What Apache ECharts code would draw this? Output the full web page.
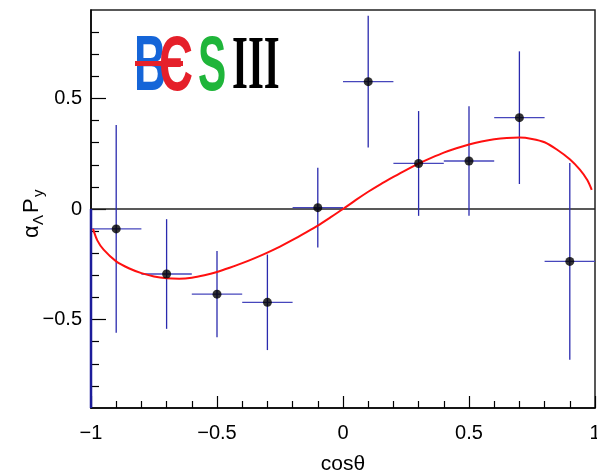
<!DOCTYPE html>
<html>
<head>
<meta charset="utf-8">
<script src="https://cdn.jsdelivr.net/npm/echarts@6/dist/echarts.min.js"></script>
<style>
html,body{margin:0;padding:0;background:#fff;}
#c{width:597px;height:473px;}
</style>
</head>
<body>
<div id="c"></div>
<script>
// ---- data ----
const xVals  = [-0.9, -0.7, -0.5, -0.3, -0.1, 0.1, 0.3, 0.5, 0.7, 0.9];
const yVals  = [-0.090, -0.294, -0.385, -0.422, 0.006, 0.576, 0.206, 0.217, 0.413, -0.237];
const yErrs  = [0.470, 0.248, 0.195, 0.216, 0.180, 0.298, 0.237, 0.248, 0.300, 0.445];
const xErrs  = [0.1, 0.1, 0.1, 0.1, 0.1, 0.1, 0.1, 0.1, 0.1, 0.1];
// fitted curve
const curveX = [-0.992, -0.975, -0.95, -0.9, -0.85, -0.8, -0.75, -0.7, -0.65, -0.6, -0.55, -0.5, -0.45, -0.4, -0.35, -0.3, -0.25, -0.2, -0.15, -0.1, -0.05, 0.0,
                0.05, 0.1, 0.15, 0.2, 0.25, 0.3, 0.35, 0.4, 0.45, 0.5, 0.55, 0.6, 0.65, 0.7, 0.75, 0.8, 0.85, 0.9, 0.94, 0.97, 0.987];
const curveY = [-0.090, -0.142, -0.184, -0.237, -0.268, -0.290, -0.305, -0.313, -0.315, -0.311, -0.300, -0.285, -0.266, -0.245, -0.222, -0.197, -0.170, -0.140, -0.108, -0.075, -0.038, 0.000,
                0.040, 0.078, 0.113, 0.145, 0.176, 0.205, 0.231, 0.255, 0.275, 0.292, 0.305, 0.315, 0.321, 0.323, 0.317, 0.302, 0.268, 0.225, 0.178, 0.130, 0.087];
const zeroLine = [[-1, 0], [1, 0]];
const edgeLine = [[-1, 0], [-1, -0.9]];
const xMajor = [-1, -0.5, 0, 0.5, 1];
const xMinor = [-0.9,-0.8,-0.7,-0.6,-0.4,-0.3,-0.2,-0.1,0.1,0.2,0.3,0.4,0.6,0.7,0.8,0.9];
const yMajor = [-0.5, 0, 0.5];
const yMinor = [-0.8,-0.7,-0.6,-0.4,-0.3,-0.2,-0.1,0.1,0.2,0.3,0.4,0.6,0.7,0.8];
const axisTitleX = 'cosθ';

const fmt = v => (v < 0 ? '\u2212' + String(Math.abs(v)) : String(v));
const FONT = 'Liberation Sans, Arial, sans-serif';

const chart = echarts.init(document.getElementById('c'), null, {renderer: 'canvas'});

const errData = xVals.map((x, i) => [x, yVals[i], yErrs[i], xErrs[i]]);
const ptData = xVals.map((x, i) => [x, yVals[i]]);
const curveData = curveX.map((x, i) => [x, curveY[i]]);

const baseAxis = {
  type: 'value', min: -1, max: 1,
  splitLine: {show: false}
};

const option = {
  animation: false,
  backgroundColor: '#fff',
  grid: {left: 91, right: 2, top: 10, bottom: 65, containLabel: false, outerBoundsMode: 'none',
         show: true, borderColor: '#222', borderWidth: 1.5, backgroundColor: 'transparent'},
  xAxis: [
    Object.assign({}, baseAxis, {
      gridIndex: 0, position: 'bottom',
      axisLine: {show: true, onZero: false, lineStyle: {color: '#000', width: 1.5}},
      axisTick: {show: true, inside: true, length: 12, customValues: xMajor, lineStyle: {color: '#000', width: 1.2}},
      axisLabel: {show: true, customValues: xMajor, formatter: fmt, fontSize: 20, fontFamily: FONT, color: '#000', margin: 15, showMinLabel: true, showMaxLabel: true},
      name: axisTitleX, nameLocation: 'middle', nameGap: 46,
      nameTextStyle: {fontSize: 21, fontFamily: FONT, color: '#000'}
    }),
    Object.assign({}, baseAxis, {
      gridIndex: 0, position: 'bottom',
      axisLine: {show: false, onZero: false},
      axisTick: {show: true, inside: true, length: 7, customValues: xMinor, lineStyle: {color: '#000', width: 1.2}},
      axisLabel: {show: false}
    })
  ],
  yAxis: [
    {
      type: 'value', min: -0.9, max: 0.9, position: 'left',
      splitLine: {show: false},
      axisLine: {show: true, onZero: false, lineStyle: {color: '#000', width: 1.5}},
      axisTick: {show: true, inside: true, length: 15, customValues: yMajor, lineStyle: {color: '#000', width: 1.2}},
      axisLabel: {show: true, customValues: yMajor, formatter: fmt, fontSize: 20, fontFamily: FONT, color: '#000', margin: 9}
    },
    {
      type: 'value', min: -0.9, max: 0.9, position: 'left',
      splitLine: {show: false},
      axisLine: {show: false, onZero: false},
      axisTick: {show: true, inside: true, length: 8, customValues: yMinor, lineStyle: {color: '#000', width: 1.2}},
      axisLabel: {show: false}
    }
  ],
  series: [
    {
      type: 'line', data: zeroLine, xAxisIndex: 0, yAxisIndex: 0,
      symbol: 'none', lineStyle: {color: '#222', width: 1.5}, silent: true, z: 2
    },
    {
      type: 'line', data: edgeLine, xAxisIndex: 0, yAxisIndex: 0,
      symbol: 'none', lineStyle: {color: '#1c1c9a', width: 2.5}, silent: true, z: 3
    },
    {
      type: 'custom', xAxisIndex: 0, yAxisIndex: 0, data: errData, z: 3,
      encode: {x: 0, y: 1},
      renderItem: function (params, api) {
        const x = api.value(0), y = api.value(1), ey = api.value(2), ex = api.value(3);
        const top = api.coord([x, Math.min(y + ey, 0.9)]);
        const bot = api.coord([x, Math.max(y - ey, -0.9)]);
        const l = api.coord([x - ex, y]);
        const r = api.coord([x + ex, y]);
        return {
          type: 'group',
          children: [
            {type: 'line', shape: {x1: top[0], y1: top[1], x2: bot[0], y2: bot[1]}, style: {stroke: '#2a2aae', lineWidth: 1.3}},
            {type: 'line', shape: {x1: l[0], y1: l[1], x2: r[0], y2: r[1]}, style: {stroke: '#4646bc', lineWidth: 1.3}}
          ]
        };
      }
    },
    {
      type: 'line', data: curveData, xAxisIndex: 0, yAxisIndex: 0, smooth: 0.25,
      symbol: 'none', lineStyle: {color: '#ff1010', width: 2}, z: 4, silent: true
    },
    {
      type: 'scatter', data: ptData, xAxisIndex: 0, yAxisIndex: 0,
      symbol: 'circle', symbolSize: 9, itemStyle: {color: '#000'}, z: 5, silent: true
    }
  ],
  graphic: [
    // BESIII logo as text
    {type: 'text', x: 134, y: 30, scaleX: 0.58, style: {text: 'B', font: 'bold 77px ' + FONT, fill: '#1565d8'}, z: 10},
    {type: 'text', x: 159, y: 30, scaleX: 0.62, style: {text: '\u0404', font: 'bold 77px ' + FONT, fill: '#e5202a'}, z: 10},
    {type: 'rect', shape: {x: 135, y: 61, width: 48, height: 5}, style: {fill: '#e5202a'}, z: 11},
    {type: 'text', x: 198, y: 30, scaleX: 0.55, style: {text: 'S', font: 'bold 77px ' + FONT, fill: '#1fb53a'}, z: 10},
    {type: 'text', x: 232, y: 30, scaleX: 0.53, style: {text: 'III', font: 'bold 77px Liberation Serif, serif', fill: '#000'}, z: 10},
    // y-axis title
    {
      type: 'group', x: 21, y: 238, rotation: Math.PI / 2,
      children: [
        {type: 'text', x: 0, y: 0, style: {text: 'α', font: '22px ' + FONT, fill: '#000'}},
        {type: 'text', x: 13, y: 10, style: {text: 'Λ', font: '15px ' + FONT, fill: '#000'}},
        {type: 'text', x: 25, y: 0, style: {text: 'P', font: '22px ' + FONT, fill: '#000'}},
        {type: 'text', x: 41, y: 10, style: {text: 'y', font: '15px ' + FONT, fill: '#000'}}
      ]
    }
  ]
};
chart.setOption(option);
</script>
</body>
</html>
